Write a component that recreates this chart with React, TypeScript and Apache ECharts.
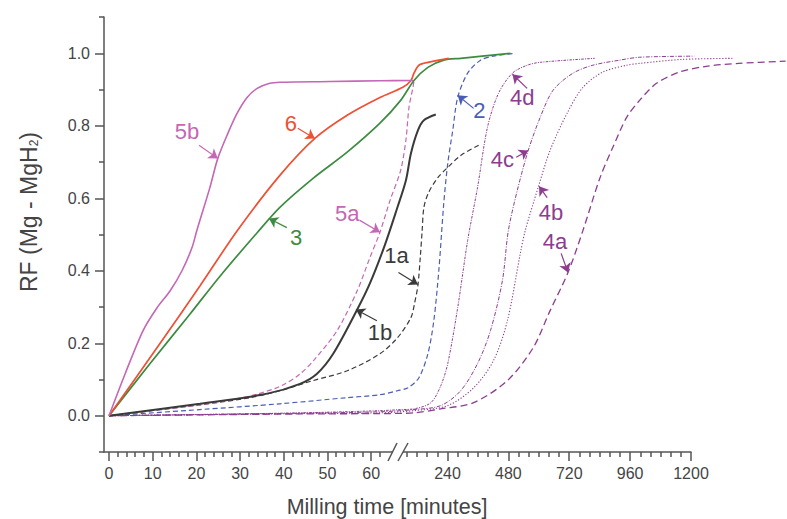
import React, { useEffect, useRef } from "react";
import * as echarts from "echarts";

// ---- data (time in minutes, RF fraction) ----
const t5b = [0, 3.7, 7.8, 11.0, 14.0, 16.7, 19.0, 20.1, 23.1, 24.9, 27.2, 29.3, 31.6, 33.9, 36.8, 39.1, 50.6, 62.0, 104];
const rf5b = [0, 0.116, 0.235, 0.298, 0.345, 0.4, 0.464, 0.511, 0.63, 0.71, 0.779, 0.834, 0.878, 0.903, 0.917, 0.92, 0.922, 0.924, 0.925];

const t6 = [0, 11.7, 20.8, 29.5, 39.1, 47.1, 54.5, 62.0, 76.4, 96, 107.8, 127.4, 162.6, 244.9];
const rf6 = [0, 0.2, 0.358, 0.513, 0.663, 0.765, 0.829, 0.878, 0.906, 0.925, 0.945, 0.967, 0.975, 0.986];

const t3 = [0, 9.4, 18.5, 25.4, 33.9, 39.1, 46.7, 54.5, 62.0, 74.5, 107.8, 162.6, 225.3, 291.9, 487.9];
const rf3 = [0, 0.144, 0.28, 0.385, 0.505, 0.575, 0.655, 0.727, 0.807, 0.87, 0.925, 0.961, 0.981, 0.986, 1.0];

const t5a = [0, 9.4, 20.8, 28.4, 34, 39.5, 43.7, 47, 52.2, 56.8, 59.7, 62, 65.2, 74.5, 79.1, 88.2, 104, 107.8];
const rf5a = [0, 0.014, 0.03, 0.045, 0.06, 0.083, 0.115, 0.155, 0.235, 0.345, 0.436, 0.506, 0.594, 0.677, 0.76, 0.851, 0.906, 0.925];

const t1b = [0, 20.8, 36.2, 43.7, 47.6, 51.3, 56.8, 59.7, 63.1, 71.7, 79.1, 96, 123.4, 146.9, 193.9];
const rf1b = [0, 0.033, 0.061, 0.088, 0.116, 0.171, 0.293, 0.365, 0.47, 0.575, 0.649, 0.724, 0.787, 0.815, 0.831];

const t1a = [0, 20.8, 32.3, 39.1, 46.7, 54.5, 62, 71.7, 96, 110, 123.4, 133, 140, 147, 165, 201.8, 241, 292, 370];
const rf1a = [0, 0.03, 0.05, 0.069, 0.097, 0.124, 0.171, 0.215, 0.271, 0.31, 0.36, 0.44, 0.51, 0.575, 0.615, 0.657, 0.685, 0.718, 0.749];

const t2 = [0, 20.8, 39.1, 54.5, 62, 71.7, 84.2, 127.4, 162.6, 186, 205.7, 225.3, 241, 260.6, 280.2, 319.4, 370.3, 421, 507];
const rf2 = [0, 0.017, 0.033, 0.05, 0.058, 0.069, 0.077, 0.105, 0.171, 0.262, 0.4, 0.586, 0.696, 0.787, 0.878, 0.945, 0.981, 0.992, 1.0];

const t4d = [0, 43.7, 62, 74.5, 107.8, 174.4, 213.6, 241, 280.2, 319.4, 358.5, 397.7, 440.8, 495.7, 554.5, 605.4, 821];
const rf4d = [0, 0.008, 0.014, 0.017, 0.019, 0.036, 0.083, 0.144, 0.298, 0.483, 0.63, 0.796, 0.889, 0.945, 0.967, 0.975, 0.986];

const t4c = [0, 43.7, 62, 107.8, 213.6, 291.9, 358.5, 409.5, 456.5, 480, 515.3, 558.4, 605.4, 656.3, 734.7, 813.1, 918.9, 997.3, 1212.8];
const rf4c = [0, 0.007, 0.011, 0.017, 0.028, 0.069, 0.144, 0.235, 0.373, 0.511, 0.622, 0.732, 0.823, 0.898, 0.945, 0.967, 0.981, 0.989, 0.992];

const t4b = [0, 43.7, 62, 107.8, 241, 342.9, 421.2, 476.1, 527.1, 546.6, 597.5, 644.5, 711.1, 773.9, 852.3, 946.3, 997.3, 1165.8, 1369.5];
const rf4b = [0, 0.006, 0.008, 0.014, 0.028, 0.077, 0.152, 0.262, 0.448, 0.511, 0.63, 0.732, 0.834, 0.906, 0.948, 0.967, 0.972, 0.983, 0.986];

const t4a = [0, 43.7, 62, 107.8, 213.6, 342.9, 476.1, 578, 644.5, 715, 773.9, 840.5, 891.5, 946.3, 997.3, 1063.9, 1154, 1259.8, 1389, 1573];
const rf4a = [0, 0.005, 0.006, 0.008, 0.019, 0.036, 0.097, 0.188, 0.29, 0.395, 0.511, 0.655, 0.74, 0.823, 0.87, 0.917, 0.948, 0.964, 0.972, 0.978];

// tick labels
const xLabelsLeft = [0, 10, 20, 30, 40, 50, 60];
const xLabelsRight = [240, 480, 720, 960, 1200];
const yLabels = [0, 0.2, 0.4, 0.6, 0.8, 1.0];
const yMinorTicks = [-0.1, 0.1, 0.3, 0.5, 0.7, 0.9, 1.1];

// ---- broken time axis: 0..64 min linear, break, 80..1200 min on a compressed scale ----
const BREAK_A = 64;
const BREAK_B = 80;
const U_OFF = 63.53;
const U_K = 0.058043;
const uOf = (t: number) =>
  t <= BREAK_A ? t : t >= BREAK_B ? U_OFF + U_K * t : BREAK_A + ((t - BREAK_A) * (U_OFF + U_K * BREAK_B - BREAK_A)) / (BREAK_B - BREAK_A);
const X_MIN = -1.144;
const X_MAX = uOf(1200);

const FONT = "'Liberation Sans', Arial, Helvetica, sans-serif";
const AXIS_COLOR = "#555";
const TEXT_COLOR = "#444";

const C_MAG = "#c467b5";
const C_RED = "#ef4f32";
const C_GRN = "#3d8b40";
const C_DARK = "#3a3a3a";
const C_BLUE = "#4a5db4";
const C_PUR = "#8c3d90";

type Anno = { label: [number, number]; from: [number, number]; to: [number, number]; text: string };

const annos: Record<string, Anno> = {
  "5b": { text: "5b", label: [17.85, 0.785], from: [20.6, 0.746], to: [24.9, 0.71] },
  "6": { text: "6", label: [41.6, 0.807], from: [43.2, 0.793], to: [47.1, 0.765] },
  "3": { text: "3", label: [42.8, 0.492], from: [40.7, 0.519], to: [36.6, 0.544] },
  "5a": { text: "5a", label: [54.5, 0.558], from: [57.4, 0.539], to: [62.0, 0.506] },
  "1a": { text: "1a", label: [70.8, 0.442], from: [72.6, 0.395], to: [123.4, 0.362] },
  "1b": { text: "1b", label: [62.0, 0.229], from: [61.3, 0.262], to: [56.5, 0.293] },
  "2": { text: "2", label: [366, 0.843], from: [343, 0.848], to: [280, 0.884] },
  "4d": { text: "4d", label: [535, 0.878], from: [554, 0.903], to: [496, 0.942] },
  "4c": { text: "4c", label: [456, 0.707], from: [511, 0.713], to: [558, 0.732] },
  "4b": { text: "4b", label: [648, 0.561], from: [633, 0.602], to: [601, 0.633] },
  "4a": { text: "4a", label: [664, 0.481], from: [688, 0.448], to: [715, 0.395] },
};

function mkSeries(
  name: string,
  ts: number[],
  rfs: number[],
  color: string,
  width: number,
  dash: any,
  labelColor: string
) {
  const a = annos[name];
  return {
    type: "line",
    name,
    xAxisIndex: 2,
    yAxisIndex: 2,
    data: ts.map((t, i) => [uOf(t), rfs[i]]),
    showSymbol: false,
    symbol: "none",
    smooth: 0.3,
    lineStyle: { color, width, type: dash },
    emphasis: { disabled: true },
    markLine: a
      ? {
          silent: true,
          symbol: ["none", "arrow"],
          symbolSize: 9,
          label: { show: false },
          lineStyle: { color: labelColor, width: 1.2, type: "solid" },
          emphasis: { disabled: true },
          data: [[{ coord: [uOf(a.from[0]), a.from[1]] }, { coord: [uOf(a.to[0]), a.to[1]] }]],
        }
      : undefined,
    markPoint: a
      ? {
          silent: true,
          symbol: "circle",
          symbolSize: 1,
          itemStyle: { color: "rgba(0,0,0,0)" },
          label: {
            show: true,
            position: "inside",
            formatter: a.text,
            color: labelColor,
            fontSize: 22,
            fontFamily: FONT,
          },
          data: [{ coord: [uOf(a.label[0]), a.label[1]] }],
        }
      : undefined,
  };
}

export default function App() {
  const ref = useRef<HTMLDivElement>(null);
  useEffect(() => {
    if (!ref.current) return;
    const chart = echarts.init(ref.current, null, { renderer: "svg" });
    const W = 787;
    const H = 519;
    const gridLeft = 104;
    const gridRight = 96;
    const gridTop = 17;
    const gridBottom = 67;
    const plotW = W - gridLeft - gridRight;
    const pxPerU = plotW / (X_MAX - X_MIN);
    const X_MAX2 = X_MIN + (W - gridLeft) / pxPerU; // wider hidden grid for curves that run past 1200 min
    const pxOf = (u: number) => gridLeft + (u - X_MIN) * pxPerU;
    const axisY = H - gridBottom;
    const cx = Math.round(pxOf(uOf((BREAK_A + BREAK_B) / 2)));

    const xLabelVals = [...xLabelsLeft, ...xLabelsRight];
    const xLabelU = xLabelVals.map(uOf);
    const xMinorVals: number[] = [];
    for (let t = 2; t <= 62; t += 2) if (t % 10 !== 0) xMinorVals.push(t);
    for (let t = 80; t <= 1200; t += 40) if (t % 240 !== 0) xMinorVals.push(t);

    const tickStyle = { color: AXIS_COLOR, width: 1.5 };
    const labelFmtX = (v: number) => {
      let best = 0;
      for (let i = 1; i < xLabelU.length; i++) if (Math.abs(xLabelU[i] - v) < Math.abs(xLabelU[best] - v)) best = i;
      return String(xLabelVals[best]);
    };
    const hidden = {
      axisLine: { show: false, onZero: false },
      axisTick: { show: false },
      axisLabel: { show: false },
      splitLine: { show: false },
    };

    const option: any = {
      animation: false,
      backgroundColor: "#fff",
      grid: [
        { left: gridLeft, right: gridRight, top: gridTop, bottom: gridBottom, containLabel: false },
        { left: gridLeft, right: 0, top: gridTop, bottom: gridBottom, containLabel: false },
      ],
      xAxis: [
        {
          type: "value",
          gridIndex: 0,
          min: X_MIN,
          max: X_MAX,
          position: "bottom",
          axisLine: { show: true, onZero: false, lineStyle: tickStyle },
          axisTick: { show: true, length: 9, customValues: xLabelU, lineStyle: tickStyle },
          axisLabel: {
            customValues: xLabelU,
            formatter: labelFmtX,
            color: TEXT_COLOR,
            fontSize: 16,
            fontFamily: FONT,
            margin: 13,
          },
          splitLine: { show: false },
        },
        {
          type: "value",
          gridIndex: 0,
          min: X_MIN,
          max: X_MAX,
          position: "bottom",
          axisLine: { show: false, onZero: false },
          axisTick: { show: true, length: 5, customValues: xMinorVals.map(uOf), lineStyle: tickStyle },
          axisLabel: { show: false },
          splitLine: { show: false },
        },
        { type: "value", gridIndex: 1, min: X_MIN, max: X_MAX2, position: "bottom", ...hidden },
      ],
      yAxis: [
        {
          type: "value",
          gridIndex: 0,
          min: -0.1,
          max: 1.1,
          position: "left",
          axisLine: { show: true, onZero: false, lineStyle: tickStyle },
          axisTick: { show: true, length: 9, customValues: yLabels, lineStyle: tickStyle },
          axisLabel: {
            customValues: yLabels,
            formatter: (v: number) => v.toFixed(1),
            color: TEXT_COLOR,
            fontSize: 16,
            fontFamily: FONT,
            margin: 14,
          },
          splitLine: { show: false },
        },
        {
          type: "value",
          gridIndex: 0,
          min: -0.1,
          max: 1.1,
          position: "left",
          axisLine: { show: false, onZero: false },
          axisTick: { show: true, length: 5, customValues: yMinorTicks, lineStyle: tickStyle },
          axisLabel: { show: false },
          splitLine: { show: false },
        },
        { type: "value", gridIndex: 1, min: -0.1, max: 1.1, position: "left", ...hidden },
      ],
      series: [
        mkSeries("4a", t4a, rf4a, C_PUR, 1.3, [7, 4], C_PUR),
        mkSeries("4b", t4b, rf4b, C_PUR, 1.1, [1.2, 1.8], C_PUR),
        mkSeries("4c", t4c, rf4c, C_PUR, 1.0, [4, 1.5, 1, 1.5], C_PUR),
        mkSeries("4d", t4d, rf4d, C_PUR, 1.0, [2.5, 1.2, 1, 1.2], C_PUR),
        mkSeries("2", t2, rf2, C_BLUE, 1.2, [5, 3], C_BLUE),
        mkSeries("1a", t1a, rf1a, C_DARK, 1.2, [5, 3], C_DARK),
        mkSeries("5a", t5a, rf5a, C_MAG, 1.2, [5, 3], C_MAG),
        mkSeries("1b", t1b, rf1b, C_DARK, 2, "solid", C_DARK),
        mkSeries("3", t3, rf3, C_GRN, 1.7, "solid", C_GRN),
        mkSeries("6", t6, rf6, C_RED, 1.7, "solid", C_RED),
        mkSeries("5b", t5b, rf5b, C_MAG, 1.6, "solid", C_MAG),
      ],
      graphic: [
        {
          type: "rect",
          z: 100,
          shape: { x: cx - 5, y: axisY - 4, width: 10, height: 8 },
          style: { fill: "#fff" },
        },
        {
          type: "line",
          z: 101,
          shape: { x1: cx - 10, y1: axisY + 9, x2: cx - 1, y2: axisY - 9 },
          style: { stroke: AXIS_COLOR, lineWidth: 1.5 },
        },
        {
          type: "line",
          z: 101,
          shape: { x1: cx, y1: axisY + 9, x2: cx + 10, y2: axisY - 9 },
          style: { stroke: AXIS_COLOR, lineWidth: 1.5 },
        },
        {
          type: "text",
          z: 100,
          x: 387,
          y: 507,
          style: {
            text: "Milling time [minutes]",
            fill: TEXT_COLOR,
            fontSize: 21.5,
            fontFamily: FONT,
            align: "center",
            verticalAlign: "middle",
          },
        },
        {
          type: "text",
          z: 100,
          x: 26,
          y: 212,
          rotation: Math.PI / 2,
          style: {
            text: "{m|RF (Mg - MgH}{s|2}{m|)}",
            fill: TEXT_COLOR,
            fontSize: 23,
            fontFamily: FONT,
            align: "center",
            verticalAlign: "middle",
            rich: {
              m: { fontSize: 23, fontFamily: FONT, fill: TEXT_COLOR, lineHeight: 28, verticalAlign: "bottom" },
              s: { fontSize: 12, fontFamily: FONT, fill: TEXT_COLOR, lineHeight: 3, verticalAlign: "bottom" },
            },
          },
        },
      ],
    };
    chart.setOption(option);
    return () => chart.dispose();
  }, []);
  return (
    <div
      ref={ref}
      style={{ position: "fixed", left: 0, top: 0, width: 787, height: 519, background: "#fff" }}
    />
  );
}
